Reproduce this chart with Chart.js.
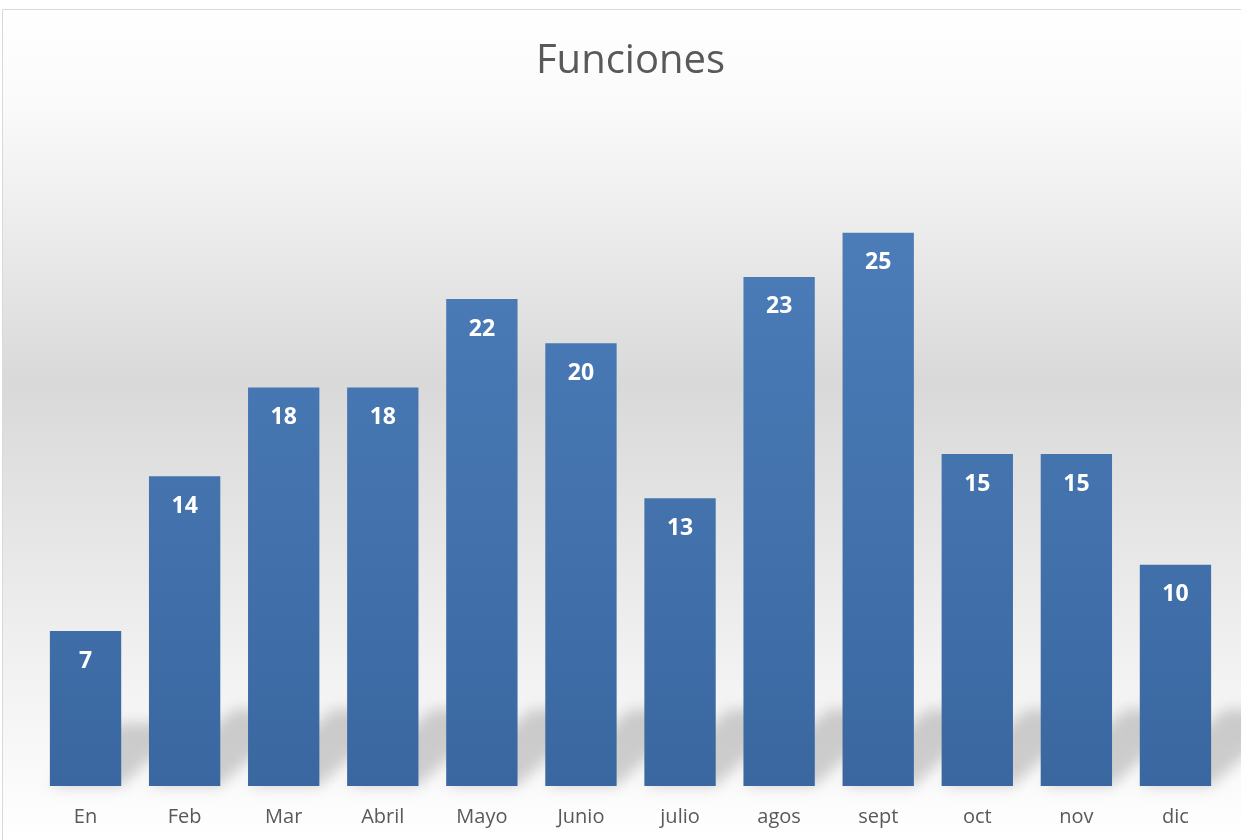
<!DOCTYPE html>
<html>
<head>
<meta charset="utf-8">
<script src="https://cdn.jsdelivr.net/npm/chart.js@4"></script>
<style>
  html, body { margin: 0; padding: 0; background: #ffffff; }
  #wrap { width: 1241px; height: 840px; position: relative; }
</style>
</head>
<body>
<div id="wrap"><canvas id="funcionesChart" width="1241" height="840"></canvas></div>
<script>
const months = ['En', 'Feb', 'Mar', 'Abril', 'Mayo', 'Junio', 'julio', 'agos', 'sept', 'oct', 'nov', 'dic'];
const funciones = [7, 14, 18, 18, 22, 20, 13, 23, 25, 15, 15, 10];

// page background + frame, like the spreadsheet chart area
const backdrop = {
    id: 'backdrop',
    beforeDraw(chart) {
        const c = chart.ctx;
        const g = c.createLinearGradient(0, 10, 0, 840);
        g.addColorStop(0, '#ffffff');
        g.addColorStop(0.12, '#fafafa');
        g.addColorStop(0.45, '#d9d9d9');
        g.addColorStop(0.8, '#f2f2f2');
        g.addColorStop(1, '#ffffff');
        c.save();
        c.fillStyle = g;
        c.fillRect(2, 10, 1239, 830);
        c.strokeStyle = '#d9d9d9';
        c.lineWidth = 1;
        c.beginPath();
        c.moveTo(2.5, 840);
        c.lineTo(2.5, 9.5);
        c.lineTo(1241, 9.5);
        c.stroke();
        c.restore();
    }
};

// soft perspective shadow behind each bar
const barShadows = {
    id: 'barShadows',
    beforeDatasetsDraw(chart) {
        const c = chart.ctx;
        const meta = chart.getDatasetMeta(0);
        c.save();
        c.filter = 'blur(7px)';
        c.fillStyle = 'rgba(90, 90, 90, 0.28)';
        meta.data.forEach(bar => {
            const p = bar.getProps(['x', 'y', 'base', 'width'], true);
            const h = p.base - p.y;
            const d = Math.min(h * 0.45, 85);
            const x0 = p.x - p.width / 2, x1 = p.x + p.width / 2;
            c.beginPath();
            c.moveTo(x0, p.base);
            c.lineTo(x1, p.base);
            c.lineTo(x1 + d, p.base - d * 0.9);
            c.lineTo(x0 + d, p.base - d * 0.9);
            c.closePath();
            c.fill();
        });
        c.restore();
    }
};

// white bold value inside the top of each bar
const valueLabels = {
    id: 'valueLabels',
    afterDatasetsDraw(chart) {
        const c = chart.ctx;
        const meta = chart.getDatasetMeta(0);
        c.save();
        c.fillStyle = '#ffffff';
        c.font = 'bold 23px "Open Sans", sans-serif';
        c.textAlign = 'center';
        c.textBaseline = 'middle';
        meta.data.forEach((bar, i) => {
            const p = bar.getProps(['x', 'y'], true);
            c.fillText(String(funciones[i]), p.x, p.y + 30);
        });
        c.restore();
    }
};

const ctx = document.getElementById('funcionesChart');

new Chart(ctx, {
    type: 'bar',
    data: {
        labels: months,
        datasets: [{
            label: 'Funciones',
            data: funciones,
            backgroundColor: function (context) {
                const area = context.chart.chartArea;
                if (!area) return '#4a7ab5';
                const g = context.chart.ctx.createLinearGradient(0, area.top, 0, area.bottom);
                g.addColorStop(0, '#4f81bd');
                g.addColorStop(1, '#3a67a0');
                return g;
            },
            borderWidth: 0,
            barPercentage: 0.72,
            categoryPercentage: 1.0
        }]
    },
    options: {
        responsive: false,
        animation: false,
        layout: {
            padding: { top: 0, left: 36, right: 16, bottom: -8 }
        },
        plugins: {
            legend: { display: false },
            tooltip: { enabled: false },
            title: {
                display: true,
                text: 'Funciones',
                color: '#595959',
                font: { family: '"Open Sans", sans-serif', size: 40, weight: 'normal' },
                padding: { top: 38, bottom: 36 }
            }
        },
        scales: {
            x: {
                grid: { display: false, drawTicks: false },
                border: { display: false },
                ticks: {
                    color: '#595959',
                    padding: 19,
                    font: { family: '"Open Sans", sans-serif', size: 20 }
                }
            },
            y: {
                display: false,
                min: 0,
                max: 30
            }
        }
    },
    plugins: [backdrop, barShadows, valueLabels]
});
</script>
</body>
</html>
